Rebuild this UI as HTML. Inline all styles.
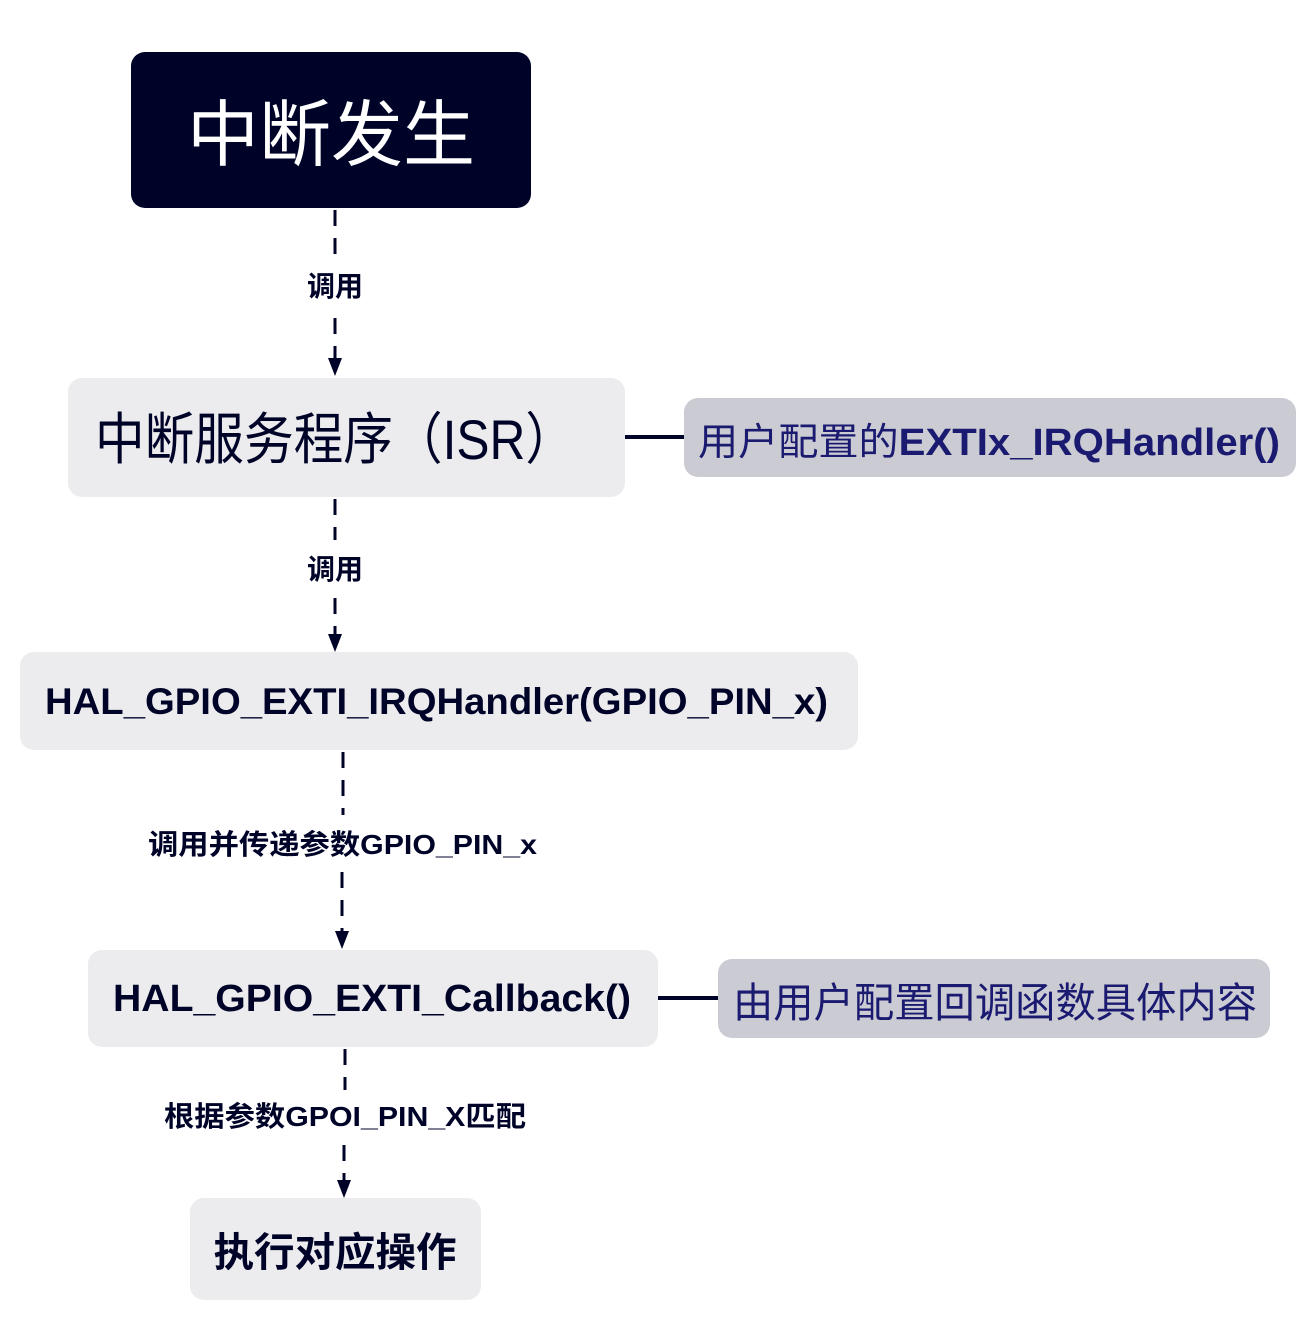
<!DOCTYPE html>
<html><head><meta charset="utf-8"><style>
html,body{margin:0;padding:0;background:#fff;}
svg text{font-family:"Liberation Sans","Noto Sans CJK SC",sans-serif;}
</style></head><body>
<svg width="1316" height="1318" viewBox="0 0 1316 1318" xmlns="http://www.w3.org/2000/svg">
<defs><marker id="a" markerWidth="10" markerHeight="10" refX="5" refY="9" orient="auto" markerUnits="userSpaceOnUse"><path d="M0,0 L10,0 L5,10 z" fill="#000328" transform="rotate(-90 5 5)"/></marker></defs>
<g stroke="#000328" stroke-width="3" stroke-dasharray="16,12" fill="none">
<line x1="335" y1="210" x2="335" y2="262"/><line x1="335" y1="318" x2="335" y2="360"/>
<line x1="335" y1="499" x2="335" y2="540"/><line x1="335" y1="598" x2="335" y2="636"/>
<line x1="343" y1="752" x2="343" y2="815"/><line x1="342" y1="872" x2="342" y2="933"/>
<line x1="345" y1="1049" x2="345" y2="1090"/><line x1="344" y1="1145" x2="344" y2="1182"/>
</g>
<g fill="#000328">
<path d="M328,358 L342,358 L335,376 z"/><path d="M328,634 L342,634 L335,652 z"/>
<path d="M335,931 L349,931 L342,949 z"/><path d="M337,1180 L351,1180 L344,1198 z"/>
</g>
<g stroke="#000328" stroke-width="4"><line x1="625" y1="437" x2="684" y2="437"/><line x1="658" y1="998" x2="718" y2="998"/></g>
<rect x="131" y="52" width="400" height="156" rx="14" fill="#000328"/>
<text x="331" y="160" font-size="72" fill="#fff" text-anchor="middle">中断发生</text>
<rect x="68" y="378" width="557" height="119" rx="14" fill="#ECEBEE"/>
<text x="95" y="459" font-size="56" fill="#000328" textLength="480" lengthAdjust="spacingAndGlyphs">中断服务程序（ISR）</text>
<rect x="684" y="398" width="612" height="79" rx="14" fill="#CBCBD3"/>
<text x="698" y="455" font-size="38" fill="#1a1a70" textLength="582" lengthAdjust="spacingAndGlyphs">用户配置的<tspan font-weight="bold">EXTIx_IRQHandler()</tspan></text>
<rect x="20" y="652" width="838" height="98" rx="14" fill="#ECEBEE"/>
<text x="45" y="714" font-size="37" font-weight="bold" fill="#000328" textLength="783" lengthAdjust="spacingAndGlyphs">HAL_GPIO_EXTI_IRQHandler(GPIO_PIN_x)</text>
<rect x="88" y="950" width="570" height="97" rx="14" fill="#ECEBEE"/>
<text x="113" y="1011" font-size="38" font-weight="bold" fill="#000328" textLength="518" lengthAdjust="spacingAndGlyphs">HAL_GPIO_EXTI_Callback()</text>
<rect x="718" y="959" width="552" height="79" rx="14" fill="#CBCBD3"/>
<text x="733" y="1017" font-size="41" fill="#1a1a70" textLength="524" lengthAdjust="spacingAndGlyphs">由用户配置回调函数具体内容</text>
<rect x="190" y="1198" width="291" height="102" rx="14" fill="#ECEBEE"/>
<text x="335" y="1266" font-size="40" font-weight="bold" fill="#000328" text-anchor="middle" textLength="243" lengthAdjust="spacingAndGlyphs">执行对应操作</text>
<g font-size="28" font-weight="bold" fill="#000328">
<text x="335" y="296" text-anchor="middle">调用</text>
<text x="335" y="579" text-anchor="middle">调用</text>
<text x="148" y="854" textLength="389" lengthAdjust="spacingAndGlyphs">调用并传递参数GPIO_PIN_x</text>
<text x="164" y="1126" textLength="362" lengthAdjust="spacingAndGlyphs">根据参数GPOI_PIN_X匹配</text>
</g>
</svg>
</body></html>
